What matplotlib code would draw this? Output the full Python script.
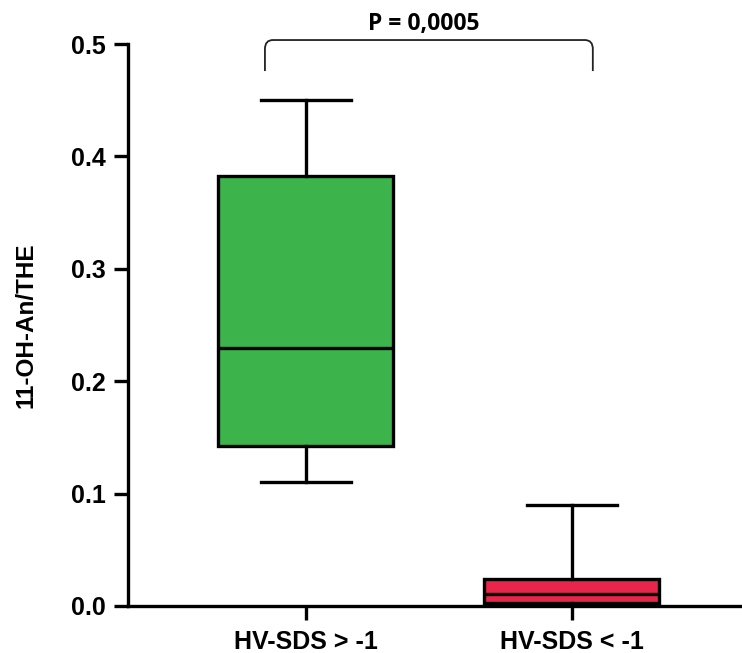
import matplotlib.pyplot as plt
from matplotlib.path import Path
from matplotlib.patches import PathPatch

# Box summary per group (whisker low, Q1, median, Q3, whisker high)
groups = ['HV-SDS > -1', 'HV-SDS < -1']
whisker_low = [0.110, 0.000]
q1 = [0.142, 0.003]
median = [0.230, 0.011]
q3 = [0.383, 0.024]
whisker_high = [0.450, 0.090]
box_colors = ['#3CB44B', '#E8254A']
y_ticks = [0.0, 0.1, 0.2, 0.3, 0.4, 0.5]
p_label = 'P = 0,0005'

plt.rcParams['font.family'] = ['Liberation Sans', 'DejaVu Sans']

fig = plt.figure(figsize=(7.42, 6.53), dpi=100)
ax = fig.add_axes([0.1725, 0.072, 0.8275, 0.8605])

stats = []
for i, g in enumerate(groups):
    stats.append(dict(label=g, whislo=whisker_low[i], q1=q1[i], med=median[i],
                      q3=q3[i], whishi=whisker_high[i], fliers=[]))

lw = 2.4
bp = ax.bxp(stats, positions=[1, 2], widths=0.658, capwidths=0.338,
            patch_artist=True, showfliers=False,
            boxprops=dict(linewidth=lw, edgecolor='black'),
            medianprops=dict(linewidth=lw, color='black', solid_capstyle='butt'),
            whiskerprops=dict(linewidth=lw, color='black'),
            capprops=dict(linewidth=lw, color='black'))
for patch, c in zip(bp['boxes'], box_colors):
    patch.set_facecolor(c)

ax.set_xlim(0.331, 2.64)
ax.set_ylim(0, 0.5)
ax.set_yticks(y_ticks)
ax.set_yticklabels([f'{v:.1f}' for v in y_ticks], fontsize=18, fontweight='bold')
ax.set_xticks([1, 2])
ax.set_xticklabels(groups, fontsize=18, fontweight='bold')
ax.set_ylabel('11-OH-An/THE', fontsize=17.5, fontweight='bold', labelpad=24)

for side in ['top', 'right']:
    ax.spines[side].set_visible(False)
for side in ['left', 'bottom']:
    ax.spines[side].set_linewidth(lw)
ax.tick_params(axis='y', width=lw, length=10, pad=6)
ax.tick_params(axis='x', width=lw, length=10, pad=7)

# significance bracket with rounded corners
x1, x2 = 0.846, 2.079
y_top, y_low, r = 0.5036, 0.476, 0.008
rx = 0.03
verts = [(x1, y_low), (x1, y_top - r), (x1, y_top), (x1 + rx, y_top),
         (x2 - rx, y_top), (x2, y_top), (x2, y_top - r), (x2, y_low)]
codes = [Path.MOVETO, Path.LINETO, Path.CURVE3, Path.CURVE3,
         Path.LINETO, Path.CURVE3, Path.CURVE3, Path.LINETO]
ax.add_patch(PathPatch(Path(verts, codes), fill=False, lw=1.3,
                       edgecolor='#222222', clip_on=False))
ax.text((x1 + x2) / 2 - 0.02, y_top + 0.004, p_label, ha='center', va='bottom',
        fontsize=16.5, fontweight='bold', family=['Open Sans', 'DejaVu Sans'])

fig.savefig('out.png', dpi=100)
